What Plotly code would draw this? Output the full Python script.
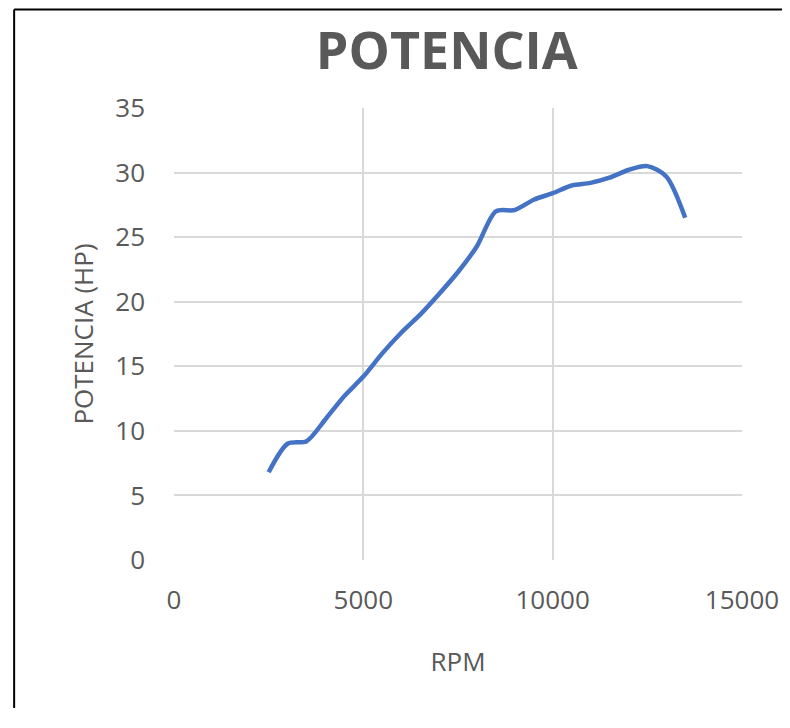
import plotly.graph_objects as go

rpm = [2500, 3000, 3500, 4000, 4500, 5000, 5500, 6000, 6500, 7000, 7500, 8000,
       8500, 9000, 9500, 10000, 10500, 11000, 11500, 12000, 12500, 13000, 13500]
hp = [6.8, 9.0, 9.2, 10.9, 12.7, 14.2, 16.0, 17.6, 19.0, 20.6, 22.3, 24.3,
      27.0, 27.1, 27.9, 28.4, 29.0, 29.2, 29.6, 30.2, 30.5, 29.7, 26.5]

x_ticks = [0, 5000, 10000, 15000]
y_ticks = [0, 5, 10, 15, 20, 25, 30, 35]

# page body has an 8px default margin, so the figure is offset by 8px
OFF = 8
W, H = 774, 700
L, R, T, B = 173.5 - OFF, 742 - OFF, 108 - OFF, 560 - OFF
pw, ph = R - L, B - T

grey = "#595959"
grid = "#d9d9d9"
font_family = "Open Sans, DejaVu Sans, sans-serif"

bx0 = (13.5 - OFF - L) / pw
by1 = (B - (9.5 - OFF)) / ph

fig = go.Figure()
fig.add_trace(go.Scatter(
    x=rpm, y=hp, mode="lines",
    line=dict(color="#4472C4", width=4.5, shape="spline", smoothing=0.8),
    showlegend=False, hoverinfo="x+y",
))

fig.update_layout(
    width=W, height=H,
    margin=dict(l=L, r=W - R, t=T, b=H - B, pad=0),
    paper_bgcolor="white", plot_bgcolor="white",
    font=dict(family=font_family, color=grey, size=26),
    title=dict(
        text="<b>POTENCIA</b>",
        font=dict(family=font_family, size=52, color=grey),
        xref="paper", x=(446.5 - OFF - L) / pw, xanchor="center",
        yref="container", y=1 - (50.5 - OFF) / H, yanchor="middle",
    ),
    xaxis=dict(
        range=[0, 15000], tickvals=x_ticks, ticktext=[str(v) for v in x_ticks],
        showgrid=True, gridcolor=grid, gridwidth=1.5,
        zeroline=False, showline=False,
        ticks="", ticklabelstandoff=22,
        tickfont=dict(size=26, color=grey, family=font_family),
        title=dict(text="RPM", font=dict(size=26, color=grey, family=font_family), standoff=36),
        automargin=False, fixedrange=True,
    ),
    yaxis=dict(
        range=[0, 35], tickvals=y_ticks, ticktext=[str(v) for v in y_ticks],
        showgrid=True, gridcolor=grid, gridwidth=1.5,
        zeroline=False, showline=False,
        ticks="", ticklabelstandoff=28,
        tickfont=dict(size=26, color=grey, family=font_family),
        title=dict(text="POTENCIA (HP)", font=dict(size=26, color=grey, family=font_family), standoff=14),
        automargin=False, fixedrange=True,
    ),
    shapes=[
        dict(type="line", xref="paper", yref="paper",
             x0=bx0, x1=1.2, y0=by1, y1=by1,
             line=dict(color="black", width=2), layer="below"),
        dict(type="line", xref="paper", yref="paper",
             x0=bx0, x1=bx0, y0=-0.5, y1=by1,
             line=dict(color="black", width=2), layer="below"),
    ],
)

fig.write_html("out.html")
